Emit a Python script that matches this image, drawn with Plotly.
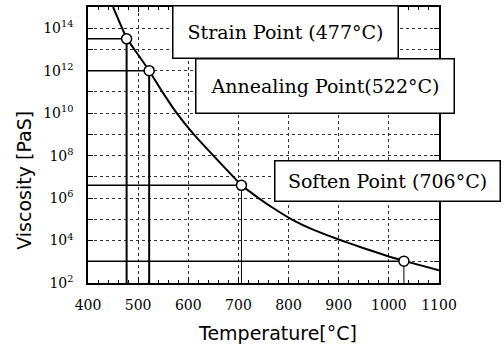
import plotly.graph_objects as go

# ---- data ----
curve_temp = [450, 478, 500, 522, 547, 577, 611, 650, 690, 706, 720, 740, 770, 806, 850, 900, 950, 1000, 1032, 1100]
curve_log_visc = [15.0, 13.5, 12.75, 12.0, 11.05, 10.0, 9.0, 8.0, 7.0, 6.6, 6.35, 6.0, 5.52, 5.0, 4.5, 4.05, 3.64, 3.25, 3.03, 2.6]

point_labels = ["Strain Point (477°C)", "Annealing Point(522°C)", "Soften Point (706°C)", ""]
point_temp = [477, 522, 706, 1030]
point_log_visc = [13.5, 12.0, 6.6, 3.03]

x_ticks = [400, 500, 600, 700, 800, 900, 1000, 1100]
y_exps = list(range(2, 15))
y_label_exps = [2, 4, 6, 8, 10, 12, 14]

x_title = "Temperature[°C]"
y_title = "Viscosity [PaS]"

# ---- layout geometry (pixels) ----
W, H = 504, 348
L, R, T, B = 88, 439, 5, 283


def px(x):
    return (x - L) / (R - L)


def py(y):
    return (B - y) / (B - T)


fig = go.Figure()

vert_w = [2, 2, 1, 1]
for t, v, vw in zip(point_temp, point_log_visc, vert_w):
    fig.add_trace(go.Scatter(x=[x_ticks[0], t], y=[10 ** v, 10 ** v], mode="lines",
                             line=dict(color="black", width=1.5), hoverinfo="skip", showlegend=False))
    fig.add_trace(go.Scatter(x=[t, t], y=[10 ** v, 10 ** y_exps[0]], mode="lines",
                             line=dict(color="black", width=vw), hoverinfo="skip", showlegend=False))

fig.add_trace(go.Scatter(x=curve_temp, y=[10 ** v for v in curve_log_visc], mode="lines",
                         line=dict(color="black", width=2, shape="spline", smoothing=0.5),
                         hoverinfo="skip", showlegend=False))

fig.add_trace(go.Scatter(x=point_temp, y=[10 ** v for v in point_log_visc], mode="markers",
                         marker=dict(size=10, color="white", line=dict(color="black", width=1.5)),
                         hoverinfo="skip", showlegend=False))

serif = "DejaVu Serif"
sans = "DejaVu Sans"

# label boxes: (center x, center y, width, height) in px
boxes = [(285.5, 30, 227, 54), (325, 85, 260, 56), (387.5, 180, 227, 42)]
for lab, (cx, cy, bw, bh) in zip(point_labels[:3], boxes):
    fig.add_annotation(x=px(cx), y=py(cy), xref="paper", yref="paper", text=lab, showarrow=False,
                       xanchor="center", yanchor="middle", width=bw - 3, height=bh - 3,
                       bgcolor="white", bordercolor="black", borderwidth=1.5, borderpad=0,
                       font=dict(family=serif, size=19, color="black"))

fig.add_annotation(x=px(277), y=py(333), xref="paper", yref="paper", text=x_title, showarrow=False,
                   xanchor="center", yanchor="middle", font=dict(family=sans, size=19, color="black"))
fig.add_annotation(x=px(24), y=py(180), xref="paper", yref="paper", text=y_title, showarrow=False,
                   textangle=-90, xanchor="center", yanchor="middle",
                   font=dict(family=sans, size=19, color="black"))

fig.update_layout(
    width=W, height=H,
    margin=dict(l=L, r=W - R, t=T, b=H - B, pad=0),
    paper_bgcolor="white", plot_bgcolor="white",
    xaxis=dict(range=[x_ticks[0], x_ticks[-1]], tickvals=x_ticks, ticks="inside", ticklen=5,
               tickcolor="black", showline=True, linecolor="black", linewidth=1.5, mirror="ticks",
               showgrid=True, gridcolor="#333", griddash="dot", gridwidth=1, zeroline=False,
               tickfont=dict(family=serif, size=14, color="black"), ticklabelstandoff=8,
               minor=dict(dtick=20, ticks="inside", ticklen=3, tickcolor="black", showgrid=False)),
    yaxis=dict(type="log", range=[y_exps[0], 15], tickvals=[10 ** e for e in y_exps],
               ticktext=[("10<sup>%d</sup>" % e) if e in y_label_exps else "" for e in y_exps],
               ticks="inside", ticklen=5, tickcolor="black", showline=True, linecolor="black",
               linewidth=1.5, mirror="ticks", showgrid=True, gridcolor="#333", griddash="dot",
               gridwidth=1, zeroline=False, ticklabelstandoff=10,
               tickfont=dict(family=serif, size=14, color="black")),
)

fig.write_html("out.html")
